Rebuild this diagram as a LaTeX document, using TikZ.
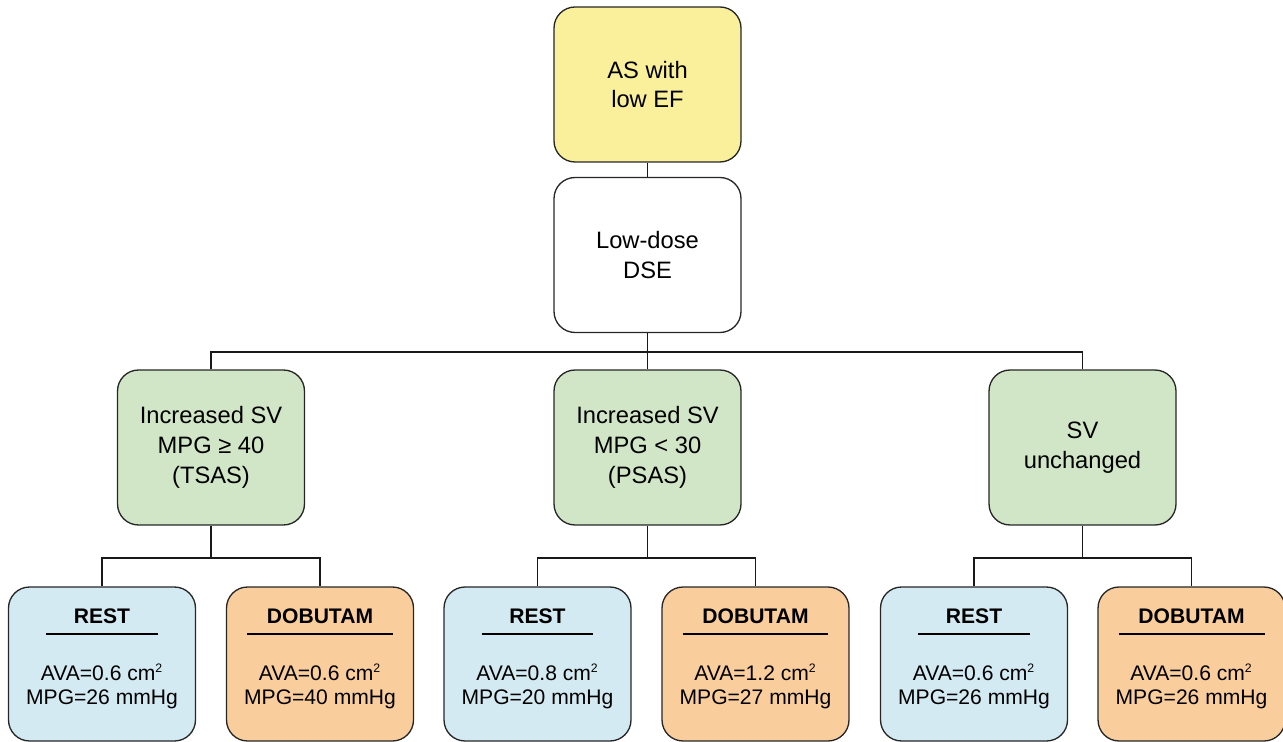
\documentclass[tikz,border=0pt]{standalone}
\usepackage{fontspec}
\setmainfont{Liberation Sans}
\usetikzlibrary{calc}

\newcommand{\readout}[4]{\textbf{#1}\\[-7.6pt]\rule{#2}{1.1pt}\\[11.6pt]AVA=#3 cm\textsuperscript{\scriptsize 2}\\MPG=#4 mmHg\rule[-8pt]{0pt}{0pt}}

\begin{document}
\begin{tikzpicture}[
        x=0.02cm, y=-0.02cm,
        box/.style={rectangle, rounded corners=0.42cm, draw=black!85, line width=0.75pt, minimum width=3.74cm, minimum height=3.1cm, align=center, font=\fontsize{13.5}{17}\selectfont},
        reading/.style={box, minimum height=3.08cm, font=\fontsize{12}{14}\selectfont},
        link/.style={draw=black!90, line width=0.6pt},
    ]
        \definecolor{ASfill}{RGB}{250,240,155}
        \definecolor{SVfill}{RGB}{209,230,198}
        \definecolor{RESTfill}{RGB}{211,234,242}
        \definecolor{DOBfill}{RGB}{250,205,157}

        \useasboundingbox (0,0) rectangle (1283,742);

        % Top
        \node[box, fill=ASfill] (as) at (647.5,84.5) {AS with\\low EF};
        \node[box, fill=white] (dse) at (647.5,255) {Low-dose\\DSE};

        % Responses
        \node[box, fill=SVfill] (tsas) at (211,447.5) {Increased SV\\MPG ≥ 40\\(TSAS)};
        \node[box, fill=SVfill] (psas) at (647.5,447.5) {Increased SV\\MPG < 30\\(PSAS)};
        \node[box, fill=SVfill] (unch) at (1082.5,447.5) {SV\\unchanged};

        % Rest / dobutamine
        \node[reading, fill=RESTfill] (rest1) at (102,664) {\readout{REST}{2.24cm}{0.6}{26}};
        \node[reading, fill=DOBfill] (dob1) at (320,664) {\readout{DOBUTAM}{2.92cm}{0.6}{40}};
        \node[reading, fill=RESTfill] (rest2) at (537.5,664) {\readout{REST}{2.24cm}{0.8}{20}};
        \node[reading, fill=DOBfill] (dob2) at (755.5,664) {\readout{DOBUTAM}{2.92cm}{1.2}{27}};
        \node[reading, fill=RESTfill] (rest3) at (974,664) {\readout{REST}{2.24cm}{0.6}{26}};
        \node[reading, fill=DOBfill] (dob3) at (1191.5,664) {\readout{DOBUTAM}{2.92cm}{0.6}{26}};

        % Edges
        \coordinate (split) at (647.5,352);
        \coordinate (split1) at (211,558);
        \coordinate (split2) at (647.5,558);
        \coordinate (split3) at (1082.5,558);

        \draw[link] (as) -- (dse);
        \draw[link] (dse) -- (split);
        \draw[link] (split) -| (tsas.north);
        \draw[link] (split) -- (psas);
        \draw[link] (split) -| (unch.north);

        \draw[link] (tsas) -- (split1);
        \draw[link] (split1) -| (rest1.north);
        \draw[link] (split1) -| (dob1.north);
        \draw[link] (psas) -- (split2);
        \draw[link] (split2) -| (rest2.north);
        \draw[link] (split2) -| (dob2.north);
        \draw[link] (unch) -- (split3);
        \draw[link] (split3) -| (rest3.north);
        \draw[link] (split3) -| (dob3.north);
    \end{tikzpicture}
\end{document}
